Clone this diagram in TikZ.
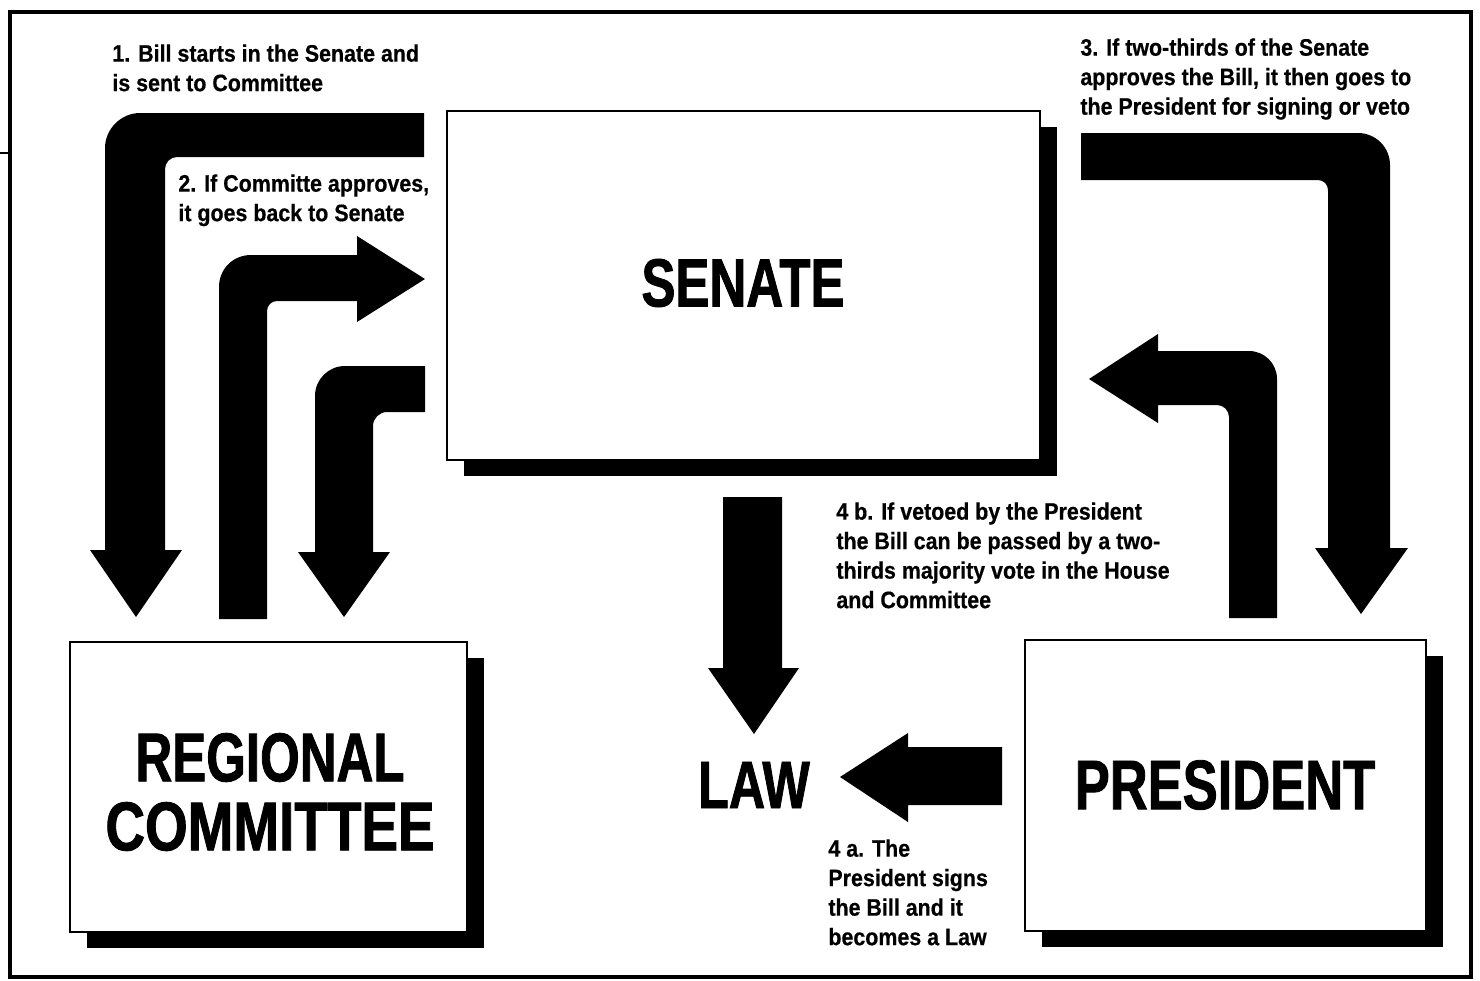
\documentclass[tikz,border=0pt]{standalone}
\usepackage{graphicx}
\usepackage{fontspec}
\setmainfont{Liberation Sans}
\newfontface\notefont{Liberation Sans Bold}[FakeStretch=0.9, FakeBold=0.5]
\newfontface\bigfont{Liberation Sans Bold}[FakeStretch=0.75, FakeBold=1.2]
\usetikzlibrary{shadows}
\begin{document}
\begin{tikzpicture}[x=0.5pt,y=-0.5pt,
  box/.style={draw=black, line width=1pt, fill=white, inner sep=0pt,
    drop shadow={shadow xshift=8.5pt, shadow yshift=-8pt, fill=black, opacity=1}},
  bigtext/.style={font=\bigfont\fontsize{34}{40}\selectfont},
  note/.style={anchor=north west, inner sep=0pt, align=left,
    font=\notefont\fontsize{11.9}{14.75}\selectfont},
  blockarrow/.style={fill=black}]
\useasboundingbox (0,0) rectangle (1480,981);
\fill[white] (0,0) rectangle (1480,981);
% outer frame
\draw[line width=2pt] (10,12) rectangle (1471,977);
\draw[line width=1pt] (0,153) -- (10,153);

% boxes
\node[box, minimum width=296.5pt, minimum height=174.5pt] (senate) at (743.5,285.5) {};
\node[bigtext] (senatetxt) at (743,283) {SENATE};
\node[box, minimum width=198.5pt, minimum height=145pt] (committee) at (268.5,787) {};
\node[bigtext, align=center, font=\bigfont\fontsize{34.5}{34.5}\selectfont] (committeetxt) at (270,792) {\scalebox{0.985}[1]{REGIONAL}\\\scalebox{1.06}[1]{COMMITTEE}};
\node[box, minimum width=200.5pt, minimum height=145.5pt] (president) at (1225.5,785.5) {};
\node[bigtext, font=\bigfont\fontsize{35}{40}\selectfont] (presidenttxt) at (1225,785) {PRESIDENT};
\node[bigtext, font=\bigfont\fontsize{33.5}{40}\selectfont] (law) at (754,785) {LAW};

% arrow 1: Senate -> Committee (outer left)
\fill[blockarrow] (424,113) -- (140,113) .. controls (121,113) and (105,129) .. (105,148)
  -- (105,550) -- (90,550) -- (136,617) -- (182,550) -- (165,550) -- (165,169)
  .. controls (165,162.4) and (170.4,157) .. (177,157) -- (424,157) -- cycle;
% arrow 2: Committee -> Senate
\fill[blockarrow] (219,619) -- (219,287) .. controls (219,269) and (233,255) .. (251,255)
  -- (357,255) -- (357,236) -- (425,279) -- (357,322) -- (357,301) -- (277,301)
  .. controls (271.5,301) and (267,305.5) .. (267,311) -- (267,619) -- cycle;
% arrow 3: Senate -> Committee (inner)
\fill[blockarrow] (425,366) -- (345,366) .. controls (328.4,366) and (315,379.4) .. (315,396)
  -- (315,552) -- (298,552) -- (344,617) -- (390,552) -- (373,552) -- (373,426)
  .. controls (373,418.3) and (379.3,412) .. (387,412) -- (425,412) -- cycle;
% arrow 4: Senate -> President
\fill[blockarrow] (1081,133) -- (1358,133) .. controls (1375.7,133) and (1390,147.3) .. (1390,165)
  -- (1390,548) -- (1408,548) -- (1361,614) -- (1315,548) -- (1328,548) -- (1328,190)
  .. controls (1328,184.5) and (1323.5,180) .. (1318,180) -- (1081,180) -- cycle;
% arrow 5: President -> Senate
\fill[blockarrow] (1229,618) -- (1229,417) .. controls (1229,410.4) and (1223.6,405) .. (1217,405)
  -- (1158,405) -- (1158,423) -- (1089,379) -- (1158,334) -- (1158,351) -- (1249,351)
  .. controls (1264.5,351) and (1277,363.5) .. (1277,379) -- (1277,618) -- cycle;
% arrow 6: Senate -> Law
\fill[blockarrow] (723,497) -- (782,497) -- (782,668) -- (799,668) -- (754,734) -- (708,668) -- (723,668) -- cycle;
% arrow 7: President -> Law
\fill[blockarrow] (1002,747) -- (1002,805) -- (908,805) -- (908,822) -- (840,777) -- (908,733) -- (908,747) -- cycle;

% notes
\node[note] (n1) at (112,44) {1. Bill starts in the Senate and\\is sent to Committee};
\node[note] (n2) at (178,174) {2. If Committe approves,\\it goes back to Senate};
\node[note] (n3) at (1080,38) {3. If two-thirds of the Senate\\approves the Bill, it then goes to\\the President for signing or veto};
\node[note] (n4b) at (836,502) {4 b. If vetoed by the President\\the Bill can be passed by a two-\\thirds majority vote in the House\\and Committee};
\node[note] (n4a) at (828,839) {4 a. The\\President signs\\the Bill and it\\becomes a Law};
\end{tikzpicture}
\end{document}
